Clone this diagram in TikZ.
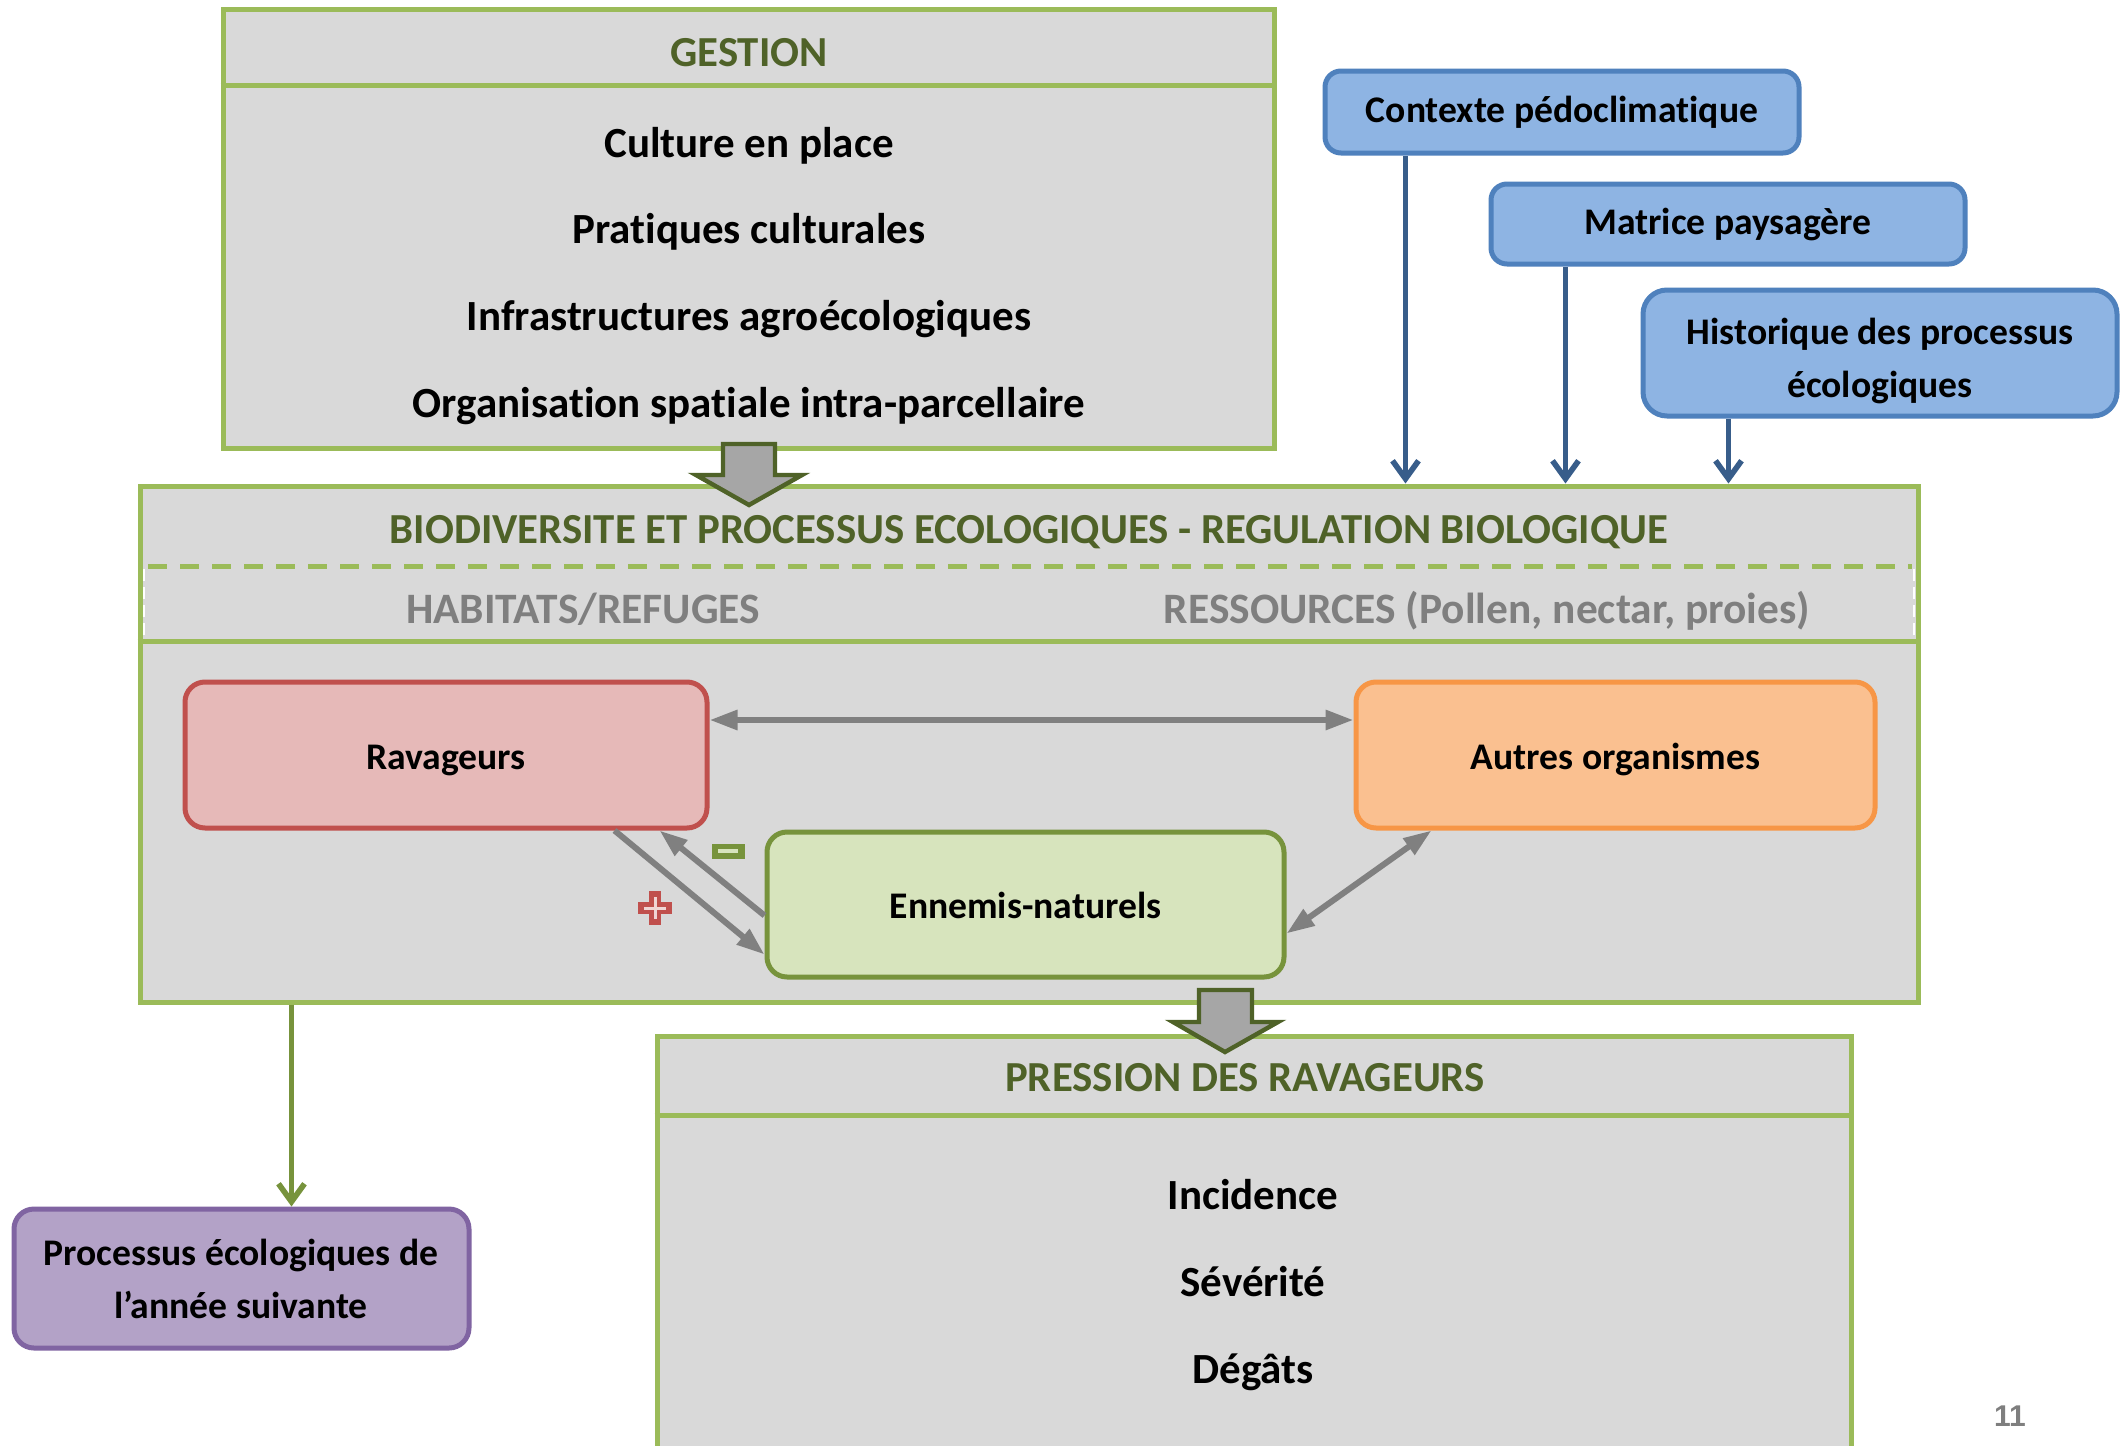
\documentclass[tikz,border=0pt]{standalone}
\usepackage{fontspec}
\setmainfont{Carlito}[Ligatures=NoCommon]
\newfontfamily\numfont{Liberation Sans}
\usetikzlibrary{arrows.meta,fit}
\definecolor{gborder}{HTML}{9BBB59}
\definecolor{gtitle}{HTML}{4F6228}
\definecolor{bggray}{HTML}{D9D9D9}
\definecolor{txtgray}{HTML}{7F7F7F}
\definecolor{arrgray}{HTML}{808080}
\definecolor{redfill}{HTML}{E6B9B8}
\definecolor{redline}{HTML}{C0504D}
\definecolor{orfill}{HTML}{FAC090}
\definecolor{orline}{HTML}{F79646}
\definecolor{grfill}{HTML}{D7E4BD}
\definecolor{grline}{HTML}{77933C}
\definecolor{blfill}{HTML}{8EB4E3}
\definecolor{blline}{HTML}{4F81BD}
\definecolor{blarrow}{HTML}{385D8A}
\definecolor{vifill}{HTML}{B3A2C7}
\definecolor{viline}{HTML}{8064A2}
\definecolor{blockfill}{HTML}{A6A6A6}
\tikzset{
  bigbox/.style={draw=gborder, fill=bggray, line width=2.5pt, inner sep=0pt},
  orgbox/.style={rounded corners=10pt, line width=2.5pt, inner sep=0pt},
  bluebox/.style={draw=blline, fill=blfill, rounded corners=8pt, line width=2.5pt, inner sep=0pt},
  txtbase/.style={inner sep=0pt, text height=0.85em, text depth=0.21em},
  listtxt/.style={txtbase, yshift=-4pt, font=\fontsize{21.5}{25}\selectfont\bfseries, text=black},
  titletxt/.style={txtbase, yshift=-4pt, font=\fontsize{21.4}{25}\selectfont\bfseries, text=gtitle},
  subtxt/.style={txtbase, yshift=-4pt, font=\fontsize{21.7}{25}\selectfont\bfseries, text=txtgray},
  lbltxt/.style={txtbase, yshift=-4pt, font=\fontsize{18.8}{22}\selectfont\bfseries, text=black},
  bltxt/.style={lbltxt, yshift=2pt},
  garrow/.style={draw=arrgray, line width=3pt, -{Triangle[length=14pt,width=9.5pt]}},
  gdarrow/.style={draw=arrgray, line width=3pt, {Triangle[length=14pt,width=9.5pt]}-{Triangle[length=14pt,width=9.5pt]}},
  barrow/.style={draw=blarrow, line width=2.8pt, -{Straight Barb[length=9pt,width=13pt,line width=2.8pt]}},
  greenarrow/.style={draw=grline, line width=2.8pt, -{Straight Barb[length=9pt,width=13pt,line width=2.8pt]}},
  blockarr/.style={draw=gtitle, fill=blockfill, line width=2.2pt, line join=miter},
}
\begin{document}
\begin{tikzpicture}[x=0.5pt,y=-0.5pt]
\useasboundingbox (0,0) rectangle (2127,1446);
\clip (0,0) rectangle (2127,1446);
\fill[white] (0,0) rectangle (2127,1446);

% GESTION box
\node[bigbox, fit={(223,9) (1274,448)}] (gestion) {};
\draw[gborder, line width=2.5pt] (gestion.west |- 0,85) -- (gestion.east |- 0,85);
\node[titletxt] (gtit) at (749,52) {GESTION};
\node[listtxt] (g1) at (749,143) {Culture en place};
\node[listtxt] (g2) at (749,229) {Pratiques culturales};
\node[listtxt] (g3) at (749,316) {Infrastructures agroécologiques};
\node[listtxt] (g4) at (749,403) {Organisation spatiale intra-parcellaire};

% BIODIV box
\node[bigbox, fit={(140,486) (1918,1002)}] (bio) {};
\draw[gborder, line width=2.5pt, dash pattern=on 9.5pt off 6.5pt] (148,566) -- (1912,566);
\draw[gborder, line width=2.5pt] (bio.west |- 0,641) -- (bio.east |- 0,641);
\draw[white, line width=0.8pt, dash pattern=on 6pt off 3pt] (144,569) -- (144,638);
\draw[white, line width=0.8pt, dash pattern=on 6pt off 3pt] (1914,569) -- (1914,638);
\node[titletxt] (btit) at (1029,529) {BIODIVERSITE ET PROCESSUS ECOLOGIQUES - REGULATION BIOLOGIQUE};
\node[subtxt] (hab) at (583,609) {HABITATS/REFUGES};
\node[subtxt] (res) at (1487,609) {RESSOURCES (Pollen, nectar, proies)};

% organism boxes
\node[orgbox, draw=redline, fill=redfill, fit={(185,682) (707,828)}] (rav) {};
\node[lbltxt] (ravt) at (rav.center) {Ravageurs};
\node[orgbox, draw=orline, fill=orfill, fit={(1356,682) (1875,828)}] (aut) {};
\node[lbltxt] (autt) at (aut.center) {Autres organismes};
\node[orgbox, draw=grline, fill=grfill, fit={(767,832) (1284,977)}] (enn) {};
\node[lbltxt] (ennt) at (enn.center) {Ennemis-naturels};

% gray connectors
\draw[gdarrow] ([yshift=17.5pt]rav.east) -- ([yshift=17.5pt]aut.west);
\draw[garrow] ([xshift=-47.5pt]rav.south east) -- ([yshift=-25pt]enn.west);
\draw[garrow] ([yshift=-5.5pt]enn.west) -- ([xshift=-25pt]rav.south east);
\draw[gdarrow] ([yshift=-14.5pt]enn.east) -- ([xshift=39pt]aut.south west);

% plus and minus signs
\fill[redline] (649,891) rectangle (661,925);
\fill[redline] (638,902) rectangle (672,914);
\fill[redfill!60!white] (653.5,897) rectangle (656.5,919);
\fill[redfill!60!white] (644,906.5) rectangle (666,909.5);
\node[fill=grline, inner sep=0pt, minimum width=16.5pt, minimum height=7.5pt] (minus) at (728,851) {};
\fill[grfill] (718,849) rectangle (738,853);

% PRESSION box
\node[bigbox, fit={(657,1036) (1851,1480)}] (pres) {};
\draw[gborder, line width=2.5pt] (pres.west |- 0,1115) -- (pres.east |- 0,1115);
\node[titletxt] (ptit) at (1245,1077) {PRESSION DES RAVAGEURS};
\node[listtxt] (p1) at (1253,1195) {Incidence};
\node[listtxt] (p2) at (1253,1282) {Sévérité};
\node[listtxt] (p3) at (1253,1369) {Dégâts};

% block arrows
\draw[blockarr] (723,444) -- (775,444) -- (775,475) -- (802,475) -- (749,505) -- (696,475) -- (723,475) -- cycle;
\draw[blockarr] (1199,990) -- (1252,990) -- (1252,1022) -- (1278,1022) -- (1225,1052) -- (1173,1022) -- (1199,1022) -- cycle;

% blue boxes
\node[bluebox, fit={(1325,71) (1799,153)}] (ctx) {};
\node[bltxt] (ctxt) at (ctx.center) {Contexte pédoclimatique};
\node[bluebox, fit={(1491,184) (1965,264)}] (mat) {};
\node[bltxt] (matt) at (mat.center) {Matrice paysagère};
\node[bluebox, rounded corners=12pt, fit={(1643,290) (2117,416)}] (his) {};
\node[lbltxt] (hist1) at (1880,330) {Historique des processus};
\node[lbltxt] (hist2) at (1880,383) {écologiques};

\draw[barrow] ([xshift=41.5pt]ctx.south west) coordinate (c1) -- (c1 |- bio.north);
\draw[barrow] ([xshift=38.5pt]mat.south west) coordinate (c2) -- (c2 |- bio.north);
\draw[barrow] ([xshift=44pt]his.south west) coordinate (c3) -- (c3 |- bio.north);

% purple box
\node[orgbox, draw=viline, fill=vifill, fit={(14,1209) (469,1348)}] (proc) {};
\node[lbltxt] (proct1) at (241,1251) {Processus écologiques de};
\node[lbltxt] (proct2) at (241,1304) {l’année suivante};
\draw[greenarrow] ([xshift=77pt]bio.south west) coordinate (c4) -- (c4 |- proc.north);

% page number
\node[font=\numfont\fontsize{15}{18}\selectfont\bfseries, text=txtgray] (pnum) at (2010,1416) {11};
\end{tikzpicture}
\end{document}
